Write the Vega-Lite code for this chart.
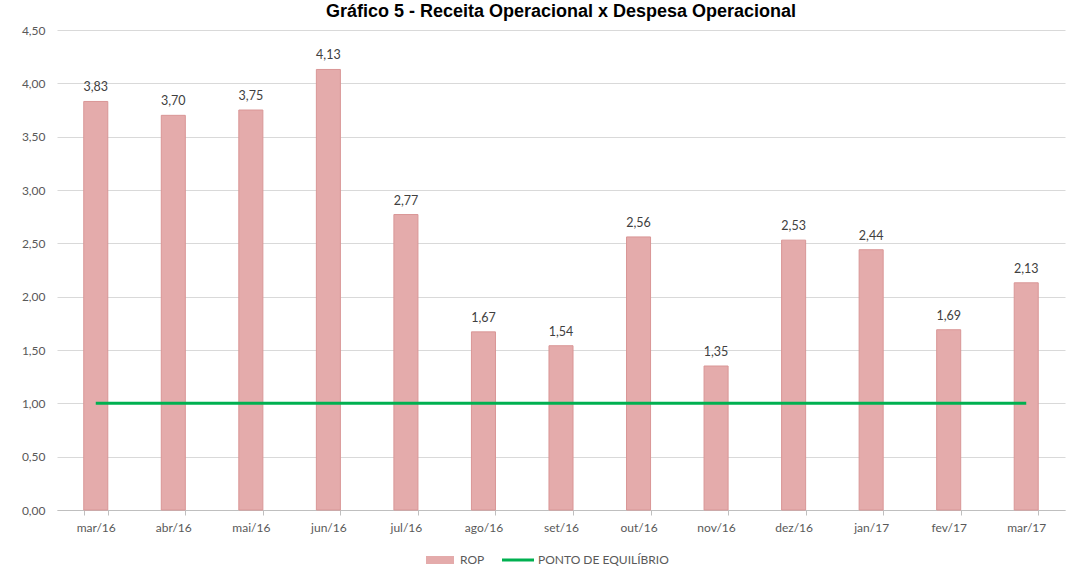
{
  "$schema": "https://vega.github.io/schema/vega-lite/v6.json",
  "width": 1008,
  "height": 480,
  "autosize": {"type": "none"},
  "padding": {"left": 57, "top": 30, "right": 3, "bottom": 66},
  "background": "white",
  "title": {
    "text": "Gráfico 5 - Receita Operacional x Despesa Operacional",
    "font": "Liberation Sans",
    "fontSize": 18,
    "fontWeight": "bold",
    "color": "#000000",
    "anchor": "middle",
    "offset": 3
  },
  "config": {
    "locale": {"number": {"decimal": ",", "thousands": ".", "grouping": [3], "currency": ["R$", ""]}},
    "view": {"stroke": null},
    "font": "Lato"
  },
  "data": {
    "values": [
      {"mes": "mar/16", "ROP": 3.83, "PE": 1.0},
      {"mes": "abr/16", "ROP": 3.70, "PE": 1.0},
      {"mes": "mai/16", "ROP": 3.75, "PE": 1.0},
      {"mes": "jun/16", "ROP": 4.13, "PE": 1.0},
      {"mes": "jul/16", "ROP": 2.77, "PE": 1.0},
      {"mes": "ago/16", "ROP": 1.67, "PE": 1.0},
      {"mes": "set/16", "ROP": 1.54, "PE": 1.0},
      {"mes": "out/16", "ROP": 2.56, "PE": 1.0},
      {"mes": "nov/16", "ROP": 1.35, "PE": 1.0},
      {"mes": "dez/16", "ROP": 2.53, "PE": 1.0},
      {"mes": "jan/17", "ROP": 2.44, "PE": 1.0},
      {"mes": "fev/17", "ROP": 1.69, "PE": 1.0},
      {"mes": "mar/17", "ROP": 2.13, "PE": 1.0}
    ]
  },
  "encoding": {
    "x": {
      "field": "mes",
      "type": "nominal",
      "sort": null,
      "scale": {"paddingInner": 0.69, "paddingOuter": 0.345, "align": 0.5},
      "axis": {
        "title": null,
        "labelAngle": 0,
        "labelFont": "Lato",
        "labelFontSize": 12,
        "labelColor": "#595959",
        "labelPadding": 7,
        "domainColor": "#bfbfbf",
        "tickColor": "#bfbfbf",
        "tickSize": 5,
        "tickBand": "extent",
        "grid": false
      }
    }
  },
  "layer": [
    {
      "mark": {"type": "bar", "stroke": "#d99696", "strokeWidth": 1},
      "encoding": {
        "y": {
          "field": "ROP",
          "type": "quantitative",
          "scale": {"domain": [0, 4.5], "nice": false},
          "axis": {
            "title": null,
            "values": [0, 0.5, 1, 1.5, 2, 2.5, 3, 3.5, 4, 4.5],
            "format": ".2f",
            "labelFont": "Lato",
            "labelFontSize": 12,
            "labelColor": "#595959",
            "labelPadding": 12,
            "domain": false,
            "ticks": false,
            "grid": true,
            "gridColor": "#d9d9d9",
            "gridWidth": 1
          }
        },
        "fill": {
          "datum": "ROP",
          "type": "nominal",
          "scale": {"domain": ["ROP"], "range": ["#e4abab"]},
          "legend": {
            "orient": "none",
            "legendX": 377,
            "legendY": 524,
            "direction": "horizontal",
            "title": null,
            "padding": 0,
            "symbolSize": 64,
            "symbolType": "M-3.5,-1H3.5V1H-3.5Z",
            "symbolStrokeWidth": 0,
            "labelOffset": 14,
            "labelFont": "Lato",
            "labelFontSize": 12,
            "labelColor": "#595959"
          }
        }
      }
    },
    {
      "mark": {"type": "text", "baseline": "bottom", "dy": -7, "font": "Lato", "fontSize": 12.5, "color": "#404040"},
      "encoding": {
        "y": {"field": "ROP", "type": "quantitative"},
        "text": {"field": "ROP", "type": "quantitative", "format": ".2f"}
      }
    },
    {
      "mark": {"type": "line", "strokeWidth": 3},
      "encoding": {
        "y": {"field": "PE", "type": "quantitative"},
        "stroke": {
          "datum": "PONTO DE EQUILÍBRIO",
          "type": "nominal",
          "scale": {"domain": ["PONTO DE EQUILÍBRIO"], "range": ["#00b050"]},
          "legend": {
            "orient": "none",
            "legendX": 455,
            "legendY": 524,
            "direction": "horizontal",
            "title": null,
            "padding": 0,
            "symbolSize": 64,
            "symbolType": "M-4,0H4",
            "symbolStrokeWidth": 3,
            "labelOffset": 14,
            "labelFont": "Lato",
            "labelFontSize": 12,
            "labelColor": "#595959"
          }
        }
      }
    }
  ]
}
